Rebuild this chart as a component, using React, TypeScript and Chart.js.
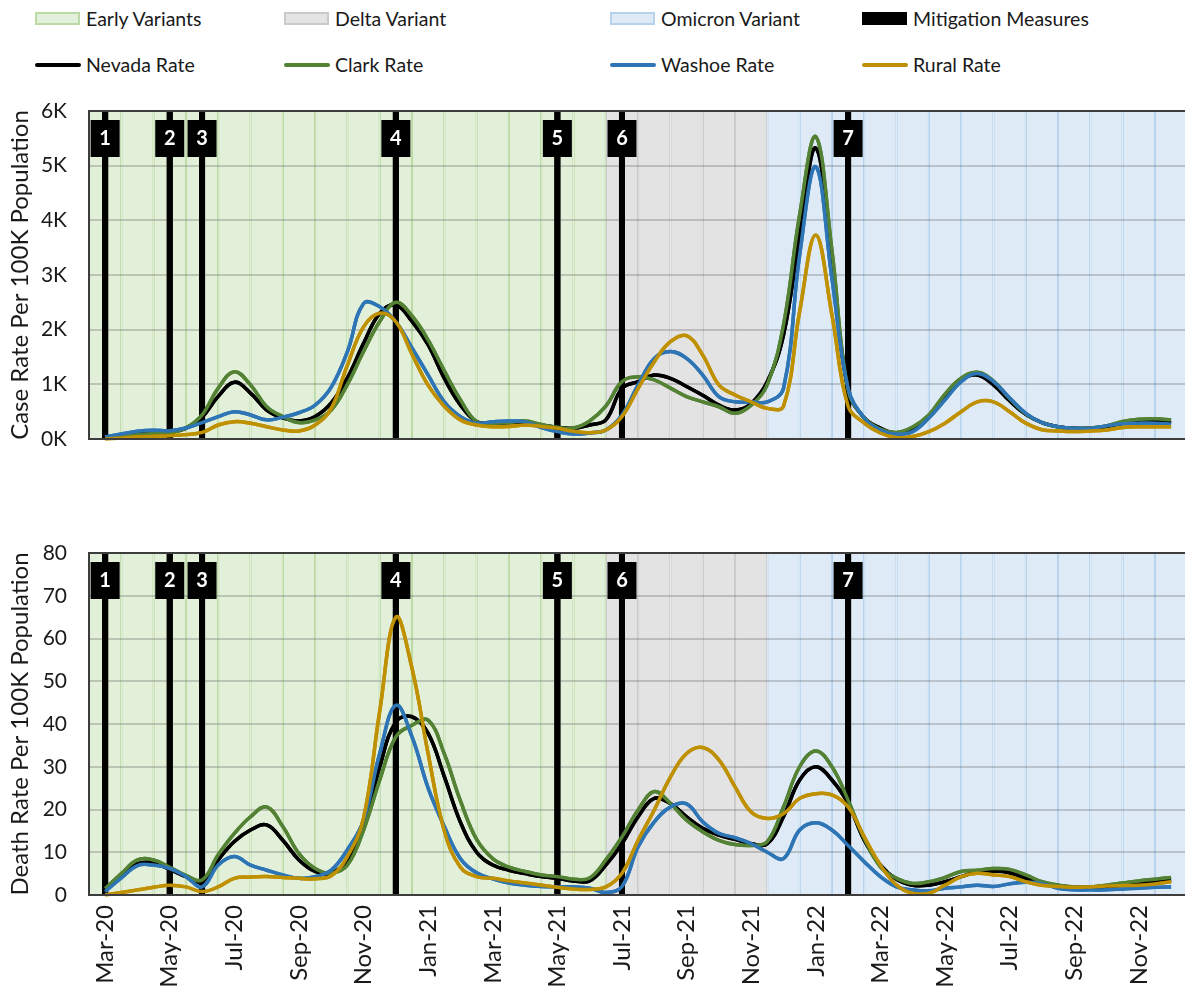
import React, { useEffect, useRef } from 'react';
import { Chart, registerables } from 'chart.js';

Chart.register(...registerables);

const FONT = 'Lato';
const TEXT_COLOR = '#1a1a1a';

const MONTH_LABELS = [
  'Mar-20', 'Apr-20', 'May-20', 'Jun-20', 'Jul-20', 'Aug-20', 'Sep-20', 'Oct-20', 'Nov-20', 'Dec-20',
  'Jan-21', 'Feb-21', 'Mar-21', 'Apr-21', 'May-21', 'Jun-21', 'Jul-21', 'Aug-21', 'Sep-21', 'Oct-21',
  'Nov-21', 'Dec-21', 'Jan-22', 'Feb-22', 'Mar-22', 'Apr-22', 'May-22', 'Jun-22', 'Jul-22', 'Aug-22',
  'Sep-22', 'Oct-22', 'Nov-22', 'Dec-22',
];
// sample positions, in months after Mar-20 (twice a month)
const SAMPLE_MONTHS = Array.from({ length: 67 }, (_, i) => i / 2);

const SERIES_NAMES = ['Nevada Rate', 'Clark Rate', 'Washoe Rate', 'Rural Rate'];
const SERIES_COLORS = ['#000000', '#548235', '#2e75b6', '#bf9000'];
const SERIES_ORDER = [3, 2, 1, 0];

const NEVADA_CASES = [
  20, 60, 100, 120, 130, 200, 400, 780, 1040, 840,
  530, 385, 330, 410, 660, 1120, 1750, 2300, 2450, 2150,
  1720, 1110, 620, 317, 290, 300, 310, 256, 215, 195,
  256, 350, 925, 1050, 1170, 1110, 960, 800, 620, 530,
  650, 1050, 1900, 3730, 5320, 3240, 900, 385, 200, 110,
  200, 410, 775, 1080, 1170, 990, 700, 450, 300, 225,
  195, 195, 230, 290, 320, 320, 300,
];
const CLARK_CASES = [
  30, 60, 80, 100, 110, 200, 440, 930, 1230, 990,
  590, 410, 300, 350, 530, 1000, 1600, 2150, 2500, 2250,
  1810, 1245, 715, 317, 290, 300, 330, 265, 215, 200,
  330, 600, 1050, 1140, 1080, 930, 775, 680, 590, 470,
  620, 1000, 2085, 4100, 5530, 3450, 900, 385, 180, 120,
  220, 440, 820, 1110, 1220, 1060, 740, 460, 300, 220,
  195, 200, 240, 320, 360, 370, 350,
];
const WASHOE_CASES = [
  40, 90, 140, 160, 150, 200, 300, 410, 500, 440,
  350, 400, 480, 620, 950, 1600, 2480, 2420, 2145, 1665,
  1170, 680, 410, 290, 316, 330, 316, 210, 135, 90,
  110, 165, 440, 990, 1475, 1600, 1475, 1170, 775, 680,
  680, 680, 925, 3365, 4980, 2940, 930, 385, 165, 90,
  135, 385, 715, 1050, 1200, 1050, 750, 470, 300, 225,
  195, 195, 240, 280, 290, 290, 270,
];
const RURAL_CASES = [
  0, 20, 40, 50, 60, 80, 120, 256, 317, 290,
  225, 165, 146, 256, 560, 1350, 2050, 2300, 2145, 1550,
  980, 600, 350, 256, 225, 230, 256, 230, 195, 140,
  115, 165, 410, 925, 1415, 1780, 1890, 1535, 990, 805,
  680, 560, 600, 2330, 3730, 2270, 600, 290, 110, 25,
  45, 135, 290, 500, 680, 680, 500, 290, 170, 146,
  135, 146, 165, 210, 225, 225, 225,
];

const NEVADA_DEATHS = [
  1.2, 4.3, 7.3, 7.5, 6.0, 4.3, 3.1, 8.2, 12.5, 15.2,
  16.4, 12.8, 8.2, 5.5, 5.1, 8.2, 16.0, 30.0, 40.5, 41.7,
  37.8, 27.7, 17.0, 10.0, 7.0, 5.8, 5.0, 4.3, 3.9, 3.3,
  3.3, 7.0, 12.0, 18.3, 22.6, 21.4, 18.3, 15.6, 14.0, 13.0,
  12.0, 12.0, 18.3, 26.9, 30.0, 26.9, 21.4, 12.8, 7.0, 3.7,
  2.3, 2.3, 3.1, 4.3, 5.5, 5.6, 5.2, 3.9, 2.7, 2.2,
  1.8, 1.8, 1.9, 2.3, 2.7, 3.1, 3.5,
];
const CLARK_DEATHS = [
  1.5, 5.0, 8.2, 8.2, 6.5, 4.6, 3.5, 9.4, 14.4, 18.3,
  20.6, 16.0, 9.7, 6.2, 5.1, 7.0, 15.2, 26.9, 37.0, 39.7,
  40.9, 33.0, 22.0, 13.0, 8.5, 6.5, 5.5, 4.7, 4.3, 3.7,
  4.0, 8.2, 13.6, 19.9, 24.2, 21.4, 17.5, 14.8, 12.8, 11.8,
  11.6, 12.5, 20.6, 30.0, 33.7, 30.0, 22.2, 13.2, 6.6, 3.9,
  2.7, 3.1, 4.1, 5.5, 5.8, 6.2, 6.0, 4.7, 3.1, 2.3,
  1.9, 1.9, 2.3, 2.8, 3.3, 3.7, 4.1,
];
const WASHOE_DEATHS = [
  0.8, 4.0, 6.9, 7.0, 6.2, 4.3, 1.9, 7.0, 9.0, 7.0,
  5.8, 4.7, 3.9, 4.3, 5.8, 10.6, 17.5, 33.1, 44.4, 37.0,
  25.0, 16.0, 8.5, 5.2, 3.8, 2.8, 2.3, 2.0, 1.9, 1.9,
  1.6, 0.6, 2.0, 11.3, 17.1, 20.6, 21.3, 17.1, 14.4, 13.4,
  12.0, 10.0, 8.5, 15.2, 16.9, 15.2, 11.6, 7.8, 4.3, 1.9,
  1.2, 1.0, 1.6, 1.9, 2.3, 2.0, 2.6, 3.0, 2.7, 1.6,
  1.2, 1.2, 1.2, 1.4, 1.6, 1.8, 1.9,
];
const RURAL_DEATHS = [
  0.0, 0.6, 1.2, 1.8, 2.3, 1.9, 0.8, 1.9, 3.9, 4.2,
  4.3, 4.1, 3.9, 3.8, 4.5, 9.0, 18.0, 43.0, 65.0, 53.0,
  33.0, 15.0, 6.5, 4.3, 3.9, 3.3, 2.8, 2.3, 1.8, 1.4,
  1.3, 1.9, 5.1, 12.8, 19.9, 27.6, 33.1, 34.5, 31.6, 25.3,
  19.4, 17.9, 19.0, 22.6, 23.7, 23.4, 20.6, 13.6, 7.0, 2.3,
  0.4, 0.4, 2.3, 4.3, 5.1, 4.7, 4.3, 3.1, 2.3, 2.0,
  1.8, 1.9, 2.1, 2.2, 2.3, 2.6, 3.1,
];

const VARIANT_NAMES = ['Early Variants', 'Delta Variant', 'Omicron Variant'];
const VARIANT_FIRST = ['Mar-20', 'Jul-21', 'Dec-21'];
const VARIANT_LAST = ['Jun-21', 'Nov-21', 'Dec-22'];
const VARIANT_FILL = ['rgba(198,224,180,0.5)', 'rgba(200,200,200,0.5)', 'rgba(189,215,238,0.5)'];
const VARIANT_BORDER = ['#bcdaa6', '#cacaca', '#b6d2ec'];
const VARIANT_SWATCH = ['#e2efda', '#e4e4e4', '#deebf7'];

const MITIGATION_NAME = 'Mitigation Measures';
const MITIGATION_MONTHS = ['Mar-20', 'May-20', 'Jun-20', 'Dec-20', 'May-21', 'Jul-21', 'Feb-22'];
const MITIGATION_IDS = ['1', '2', '3', '4', '5', '6', '7'];

const CASE_MAX = 6000;
const CASE_STEP = 1000;
const CASE_TICK_LABELS = ['0K', '1K', '2K', '3K', '4K', '5K', '6K'];
const DEATH_MAX = 80;
const DEATH_STEP = 10;
const DEATH_TICK_LABELS = ['0', '10', '20', '30', '40', '50', '60', '70', '80'];

const X_MIN = -0.5;
const X_MAX = 33.43;

// After all datasets are drawn: add horizontal grid lines over the bands, then re-draw
// the mitigation bars and rate lines on top of them, then the frame and marker labels.
const gridAndFramePlugin = {
  id: 'gridFrameMarkers',
  afterDatasetsDraw(chart: any) {
    const { ctx, chartArea: a } = chart;
    const yScale = chart.scales.y;

    ctx.save();
    ctx.strokeStyle = 'rgba(100,100,100,0.3)';
    ctx.lineWidth = 2;
    yScale.ticks.forEach((t: any) => {
      const y = Math.round(yScale.getPixelForValue(t.value));
      if (y <= a.top + 1 || y >= a.bottom - 1) return;
      ctx.beginPath();
      ctx.moveTo(a.left, y);
      ctx.lineTo(a.right, y);
      ctx.stroke();
    });
    ctx.restore();

    // redraw mitigation bars and lines (bottom-most first) over the grid lines
    const redraw = chart.data.datasets
      .map((d: any, i: number) => ({ d, i }))
      .filter(({ d }: any) => d.type === 'line' || d.label === MITIGATION_NAME)
      .sort((p: any, q: any) => (q.d.order || 0) - (p.d.order || 0));
    ctx.save();
    ctx.beginPath();
    ctx.rect(a.left, a.top - 2, a.right - a.left, a.bottom - a.top + 4);
    ctx.clip();
    redraw.forEach(({ i }: any) => {
      const meta = chart.getDatasetMeta(i);
      if (meta && meta.controller) meta.controller.draw();
    });
    ctx.restore();

    ctx.save();
    ctx.strokeStyle = '#3d3d3d';
    ctx.lineWidth = 2;
    ctx.beginPath();
    ctx.moveTo(a.right, a.top);
    ctx.lineTo(a.left, a.top);
    ctx.lineTo(a.left, a.bottom);
    ctx.lineTo(a.right, a.bottom);
    ctx.stroke();
    const idx = chart.data.datasets.findIndex((d: any) => d.label === MITIGATION_NAME);
    const meta = chart.getDatasetMeta(idx);
    meta.data.forEach((el: any, i: number) => {
      const x = el.x;
      ctx.fillStyle = '#000';
      ctx.fillRect(x - 14.5, a.top + 9, 29, 37);
      ctx.fillStyle = '#fff';
      ctx.font = `bold 20px ${FONT}`;
      ctx.textAlign = 'center';
      ctx.textBaseline = 'middle';
      ctx.fillText(MITIGATION_IDS[i], x, a.top + 28);
    });
    ctx.restore();
  },
};

function buildConfig(kind: 'case' | 'death'): any {
  const isCase = kind === 'case';
  const yMax = isCase ? CASE_MAX : DEATH_MAX;
  const step = isCase ? CASE_STEP : DEATH_STEP;
  const tickLabels = isCase ? CASE_TICK_LABELS : DEATH_TICK_LABELS;
  const series = isCase
    ? [NEVADA_CASES, CLARK_CASES, WASHOE_CASES, RURAL_CASES]
    : [NEVADA_DEATHS, CLARK_DEATHS, WASHOE_DEATHS, RURAL_DEATHS];

  const lineSets = SERIES_NAMES.map((name, k) => ({
    type: 'line',
    label: name,
    data: SAMPLE_MONTHS.map((m, i) => ({ x: m, y: series[k][i] })),
    borderColor: SERIES_COLORS[k],
    backgroundColor: SERIES_COLORS[k],
    borderWidth: 3.5,
    pointRadius: 0,
    tension: 0.4,
    fill: false,
    order: SERIES_ORDER[k],
  }));

  const bandSets = VARIANT_NAMES.map((name, v) => {
    const first = MONTH_LABELS.indexOf(VARIANT_FIRST[v]);
    const last = MONTH_LABELS.indexOf(VARIANT_LAST[v]);
    const data = MONTH_LABELS.slice(first, last + 1).map((_, j) => ({ x: first + j, y: yMax }));
    return {
      type: 'bar',
      label: name,
      data,
      backgroundColor: VARIANT_FILL[v],
      borderColor: VARIANT_BORDER[v],
      borderWidth: { left: 1.2, right: 1.2, top: 0, bottom: 0 },
      borderSkipped: false,
      inflateAmount: 0,
      grouped: false,
      barPercentage: 1,
      categoryPercentage: 1,
      order: 20,
    };
  });

  const mitigationSet = {
    type: 'bar',
    label: MITIGATION_NAME,
    data: MITIGATION_MONTHS.map((m) => ({ x: MONTH_LABELS.indexOf(m), y: yMax })),
    backgroundColor: '#000000',
    borderWidth: 0,
    inflateAmount: 0,
    barThickness: 6,
    grouped: false,
    order: 10,
  };

  return {
    type: 'line',
    data: { datasets: [...lineSets, mitigationSet, ...bandSets] },
    options: {
      responsive: false,
      animation: false,
      events: [],
      layout: { padding: { top: isCase ? 11 : 13, bottom: isCase ? 13 : 0, left: 0, right: 0 } },
      plugins: { legend: { display: false }, tooltip: { enabled: false } },
      scales: {
        x: {
          type: 'linear',
          display: !isCase,
          min: X_MIN,
          max: X_MAX,
          offset: false,
          grid: { display: false, drawTicks: false },
          border: { display: false },
          afterBuildTicks: (s: any) => {
            s.ticks = MONTH_LABELS.map((_, i) => ({ value: i })).filter((t) => t.value % 2 === 0);
          },
          afterFit: (s: any) => {
            s.height = isCase ? 0 : 91;
            s.paddingLeft = 0;
            s.paddingRight = 0;
          },
          ticks: {
            autoSkip: false,
            minRotation: 90,
            maxRotation: 90,
            padding: 10,
            color: TEXT_COLOR,
            font: { family: FONT, size: 24 },
            callback: (v: number) => MONTH_LABELS[Math.round(v)],
          },
        },
        y: {
          type: 'linear',
          min: 0,
          max: yMax,
          grid: { display: false, drawTicks: false },
          border: { display: false },
          afterFit: (s: any) => {
            s.width = 89;
            s.paddingTop = 0;
            s.paddingBottom = 0;
          },
          ticks: {
            stepSize: step,
            padding: 22,
            color: TEXT_COLOR,
            font: { family: FONT, size: 21 },
            callback: (v: number) => tickLabels[Math.round(v / step)],
          },
          title: {
            display: true,
            text: isCase ? 'Case Rate Per 100K Population' : 'Death Rate Per 100K Population',
            color: TEXT_COLOR,
            font: { family: FONT, size: 24 },
            padding: { top: 6, bottom: 0 },
          },
        },
      },
    },
    plugins: [gridAndFramePlugin],
  };
}

const LEGEND_COLUMNS = [35, 284, 610, 862];

function Legend() {
  const rowOne = [...VARIANT_NAMES, MITIGATION_NAME];
  const textStyle = (left: number, center: number): React.CSSProperties => ({
    position: 'absolute',
    left,
    top: center - 13,
    height: 26,
    lineHeight: '26px',
    fontFamily: FONT,
    fontSize: 19.5,
    color: TEXT_COLOR,
    whiteSpace: 'nowrap',
  });
  return (
    <>
      {rowOne.map((name, i) => (
        <React.Fragment key={name}>
          <div
            style={{
              position: 'absolute',
              left: LEGEND_COLUMNS[i],
              top: 12,
              width: 45,
              height: 13,
              boxSizing: 'border-box',
              background: i < 3 ? VARIANT_SWATCH[i] : '#000',
              border: i < 3 ? `2px solid ${VARIANT_BORDER[i]}` : 'none',
            }}
          />
          <div style={textStyle(LEGEND_COLUMNS[i] + 51, 19)}>{name}</div>
        </React.Fragment>
      ))}
      {SERIES_NAMES.map((name, i) => (
        <React.Fragment key={name}>
          <div
            style={{
              position: 'absolute',
              left: LEGEND_COLUMNS[i],
              top: 63,
              width: 46,
              height: 3.5,
              borderRadius: 2,
              background: SERIES_COLORS[i],
            }}
          />
          <div style={textStyle(LEGEND_COLUMNS[i] + 51, 64.5)}>{name}</div>
        </React.Fragment>
      ))}
    </>
  );
}

export default function App() {
  const topRef = useRef<HTMLCanvasElement>(null);
  const bottomRef = useRef<HTMLCanvasElement>(null);

  useEffect(() => {
    const top = new Chart(topRef.current as HTMLCanvasElement, buildConfig('case'));
    const bottom = new Chart(bottomRef.current as HTMLCanvasElement, buildConfig('death'));
    return () => {
      top.destroy();
      bottom.destroy();
    };
  }, []);

  return (
    <div style={{ position: 'absolute', left: 0, top: 0, width: 1185, height: 986, background: '#fff', overflow: 'hidden' }}>
      <Legend />
      <canvas ref={topRef} width={1185} height={352} style={{ position: 'absolute', left: 0, top: 100, display: 'block' }} />
      <canvas ref={bottomRef} width={1185} height={446} style={{ position: 'absolute', left: 0, top: 540, display: 'block' }} />
    </div>
  );
}
